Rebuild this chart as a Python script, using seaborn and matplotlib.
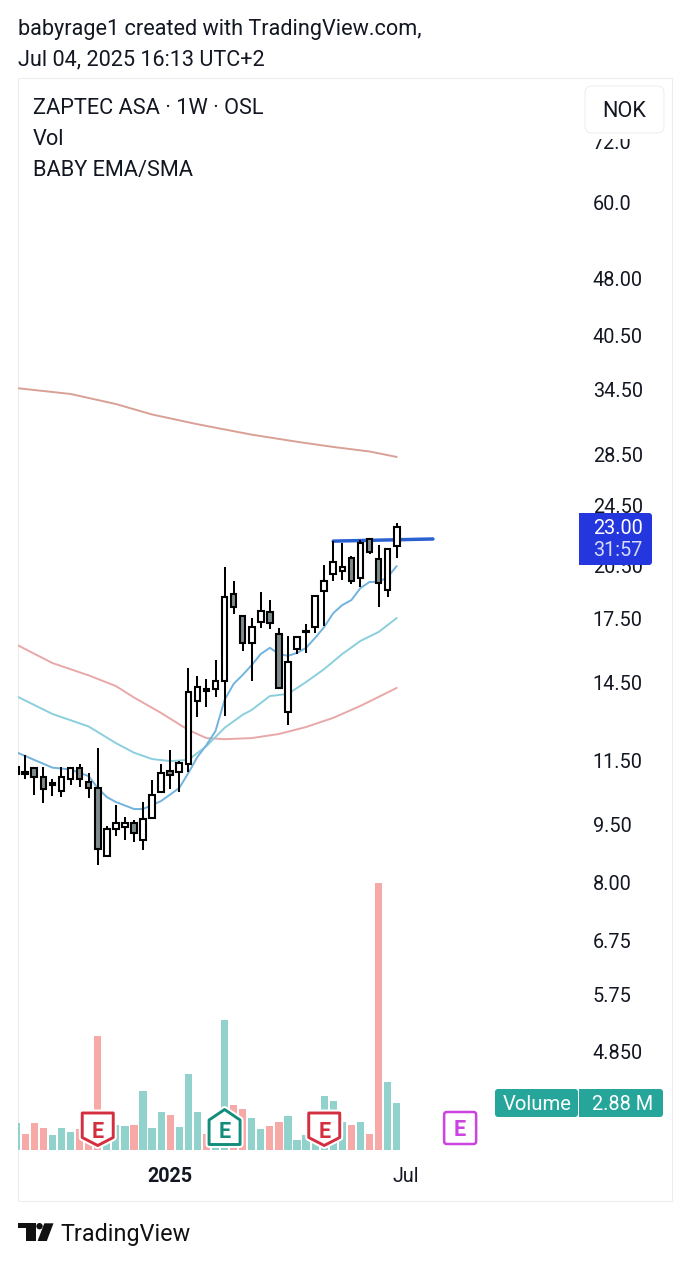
import matplotlib
matplotlib.use("Agg")
import matplotlib.pyplot as plt
import pandas as pd
import seaborn as sns
from matplotlib.patches import Circle, FancyBboxPatch, Polygon, Rectangle
from matplotlib.ticker import NullLocator
from matplotlib.transforms import IdentityTransform

# ---- data -----------------------------------------------------------------
weeks = list(range(-1, 42))
opens = [11.05, 11.06, 11.26, 10.94, 10.70, 10.50, 10.88, 11.25, 10.80, 10.61, 8.67, 9.39, 9.44, 9.56, 9.09, 9.70,
         10.49, 11.16, 11.11, 11.38, 13.73, 14.14, 14.20, 14.56, 18.83, 17.65, 16.28, 17.34, 17.84, 16.73, 13.28,
         15.99, 16.82, 17.09, 19.00, 19.96, 20.16, 20.97, 19.76, 22.19, 20.91, 19.06, 21.72]
closes = [11.28, 11.12, 10.96, 10.56, 10.75, 10.96, 11.25, 10.89, 10.61, 8.85, 9.39, 9.56, 9.56, 9.27, 9.68, 10.39,
          11.09, 11.02, 11.43, 14.07, 14.31, 14.20, 14.57, 18.68, 18.10, 16.28, 17.07, 17.91, 17.27, 14.25, 15.41,
          16.57, 16.88, 18.74, 19.59, 20.69, 20.42, 19.56, 21.93, 21.35, 19.48, 21.54, 23.00]
highs = [11.52, 11.69, 11.27, 11.27, 10.88, 11.27, 11.27, 11.38, 11.07, 11.92, 9.47, 10.08, 9.72, 9.64, 10.16, 10.86,
         11.38, 11.86, 11.49, 15.11, 14.77, 14.63, 15.49, 20.38, 19.57, 17.66, 17.53, 18.93, 18.50, 17.02, 16.63,
         16.60, 17.24, 18.74, 20.52, 22.05, 21.93, 21.10, 22.10, 22.21, 21.78, 21.57, 23.22]
lows = [10.86, 10.89, 10.38, 10.14, 10.35, 10.31, 10.70, 10.64, 10.29, 8.45, 8.65, 9.20, 9.09, 9.02, 8.82, 9.69,
        10.46, 10.57, 10.49, 11.12, 13.10, 13.49, 13.89, 13.13, 17.73, 15.93, 14.57, 17.05, 16.98, 14.24, 12.79,
        15.76, 15.80, 16.80, 17.14, 19.59, 19.63, 19.40, 19.25, 21.19, 18.10, 18.68, 20.94]
volumes = [1.66, 0.97, 1.62, 1.34, 0.89, 1.34, 1.10, 1.28, 0.50, 6.94, 0.50, 1.52, 1.44, 1.54, 3.61, 1.34, 2.29, 2.13,
           1.40, 4.60, 2.31, 0.97, 0.50, 7.91, 2.76, 2.49, 1.95, 1.26, 1.44, 1.72, 2.07, 0.59, 0.91, 1.01, 3.29, 2.96,
           1.70, 1.50, 1.72, 0.95, 16.23, 4.16, 2.88]
volume_dir = list("grrrgggrrrgggrgggrgggrggrrggrrggggggg"[:37]) + list("rgrrgg")

fast_weeks = [-1, 1, 3, 5, 7, 8, 9, 10, 12, 13, 15, 17, 18, 19, 20, 21, 22, 23, 24, 25, 26, 27, 28, 29, 30, 31, 32, 33,
              34, 35, 36, 37, 38, 39, 40, 41]
fast_ma = [11.79, 11.52, 11.26, 11.20, 10.98, 10.60, 10.32, 10.17, 9.96, 9.96, 10.20, 10.60, 11.08, 11.62, 12.04, 12.55,
           13.76, 14.43, 14.82, 15.26, 15.77, 16.06, 15.77, 15.68, 15.82, 16.06, 16.54, 17.08, 17.80, 18.23, 18.50,
           19.17, 19.52, 19.52, 19.80, 20.46]
mid_weeks = [-1, 3, 7, 10, 12, 14, 16, 18, 20, 22, 24, 25, 27, 29, 31, 33, 35, 37, 39, 40, 41]
mid_ma = [13.92, 13.20, 12.72, 12.11, 11.77, 11.55, 11.48, 11.52, 12.00, 12.67, 13.17, 13.36, 13.92, 14.01, 14.51,
          15.08, 15.77, 16.39, 16.83, 17.18, 17.54]
slow_weeks = [-1, 3, 7, 10, 12, 15, 18, 20, 22, 25, 28, 31, 34, 37, 40, 41]
slow_ma = [16.22, 15.35, 14.80, 14.34, 13.86, 13.24, 12.59, 12.29, 12.25, 12.29, 12.44, 12.70, 13.05, 13.52, 14.07, 14.26]
long_weeks = [-1, 5, 10, 14, 19, 25, 30, 34, 38, 41]
long_ma = [34.67, 34.07, 33.07, 32.06, 31.15, 30.20, 29.57, 29.12, 28.73, 28.27]
level_weeks = [34, 45]
level_prices = [22.03, 22.17]

price_ticks = [72.0, 60.0, 48.0, 40.5, 34.5, 28.5, 24.5, 20.5, 17.5, 14.5, 11.5, 9.5, 8.0, 6.75, 5.75, 4.85]
price_labels = ["72.0", "60.0", "48.00", "40.50", "34.50", "28.50", "24.50", "20.50", "17.50", "14.50", "11.50",
                "9.50", "8.00", "6.75", "5.75", "4.850"]
time_ticks = [16, 42]
time_labels = ["2025", "Jul"]
earn_weeks = [8, 22, 33, 48]
earn_kinds = ["miss", "beat", "miss", "next"]

# ---- colours --------------------------------------------------------------
INK = "#131722"
UP_VOL, DOWN_VOL = "#92D2CC", "#F7A9A7"
RED, GREEN, PURPLE = "#D32F3F", "#138D7B", "#CC44E0"

sns.set_theme(style="white")
plt.rcParams["font.family"] = ["Roboto", "DejaVu Sans"]
plt.rcParams["text.color"] = INK

W, H = 690, 1265
fig = plt.figure(figsize=(W / 100, H / 100), dpi=100, facecolor="white")
ax = fig.add_axes([18 / W, 1 - 1150 / H, (578 - 18) / W, (1150 - 79) / H])
ax2 = ax.twinx()
ax.set_zorder(2)
ax2.set_zorder(1)
ax.patch.set_visible(False)

# volume
vol_df = pd.DataFrame({"week": weeks, "vol": volumes, "dir": volume_dir})
sns.barplot(data=vol_df, x="week", y="vol", hue="dir", palette={"g": UP_VOL, "r": DOWN_VOL}, native_scale=True,
            dodge=False, width=0.8, saturation=1, legend=False, linewidth=0, ax=ax2)
ax2.set_ylim(0, 65.2)
ax2.set_ylabel("")
ax2.set_xlabel("")
ax2.set_yticks([])
for s in ax2.spines.values():
    s.set_visible(False)

# moving averages and level
ax.set_yscale("log")
line_kw = dict(ax=ax, linewidth=1.4, legend=False, estimator=None, zorder=2)
sns.lineplot(x=long_weeks, y=long_ma, color="#D9A096", **line_kw)
sns.lineplot(x=slow_weeks, y=slow_ma, color="#E8A8A8", **line_kw)
sns.lineplot(x=mid_weeks, y=mid_ma, color="#8AD0DC", **line_kw)
sns.lineplot(x=fast_weeks, y=fast_ma, color="#72B3DE", **line_kw)
sns.lineplot(x=level_weeks, y=level_prices, color="#2962D0", ax=ax, linewidth=2.5, legend=False, zorder=2.5,
             estimator=None)

# candles
ax.vlines(weeks, lows, highs, colors="black", linewidth=1.45, zorder=3)
for w, o, c in zip(weeks, opens, closes):
    lo, hi = min(o, c), max(o, c)
    ax.bar(w, hi - lo, bottom=lo, width=0.62, color="white" if c >= o else "#7F8C8D", edgecolor="black",
           linewidth=1.5, zorder=4)

ax.set_xlim(-0.8, 61.01)
ax2.set_xlim(-0.8, 61.01)
ax.set_ylim(3.6266, 86.63)
ax.yaxis.tick_right()
ax.yaxis.set_label_position("right")
ax.set_yticks(price_ticks)
ax.set_yticklabels(price_labels)
ax.yaxis.set_minor_locator(NullLocator())
ax.tick_params(axis="y", length=0, pad=10.6, labelsize=14.3, labelcolor=INK, which="both")
ax.set_xticks(time_ticks)
ax.set_xticklabels(time_labels)
ax.tick_params(axis="x", length=0, pad=12, labelsize=14.2, labelcolor=INK)
ax.get_xticklabels()[0].set_fontweight("bold")
ax.grid(False)
ax2.grid(False)
ax.set_xlabel("")
ax.set_ylabel("")
for s in ax.spines.values():
    s.set_visible(False)


# ---- page furniture (pixel positions, origin at top left) -------------------
def txt(x, y, s, size=14.5, ha="left", va="baseline", color=INK, weight="normal", z=20):
    fig.text(x / W, 1 - y / H, s, fontsize=size, ha=ha, va=va, color=color, fontweight=weight, zorder=z)


def box(x0, y0, x1, y1, fc, ec="none", r=3.0, lw=0.0, z=10, square_left=False):
    fig.add_artist(FancyBboxPatch((x0, H - y1), x1 - x0, y1 - y0, boxstyle=f"round,pad=0,rounding_size={r}",
                                  fc=fc, ec=ec, lw=lw, transform=IdentityTransform(), zorder=z))
    if square_left:
        fig.add_artist(Rectangle((x0, H - y1), r + 2, y1 - y0, fc=fc, ec="none",
                                 transform=IdentityTransform(), zorder=z))


def poly(points, fc, ec="none", lw=0.0, z=10):
    fig.add_artist(Polygon([(x, H - y) for x, y in points], closed=True, fc=fc, ec=ec, lw=lw, joinstyle="round",
                           transform=IdentityTransform(), zorder=z))


# chart frame
fig.add_artist(Rectangle((18, H - 1201), 654, 1201 - 78, fc="none", ec="#EDEDED", lw=0.8,
                         transform=IdentityTransform(), zorder=0.5))

txt(18, 35, "babyrage1 created with TradingView.com,", 15.6)
txt(18, 65, "Jul 04, 2025 16:13 UTC+2", 15.6)
txt(33, 114, "ZAPTEC ASA · 1W · OSL", 15.7)
txt(33, 145, "Vol", 15.7)
txt(33, 176, "BABY EMA/SMA", 15.7)

# the currency button masks whatever price labels run under it
fig.add_artist(Rectangle((580, H - 138.5), 90, 138.5 - 80, fc="white", ec="none",
                         transform=IdentityTransform(), zorder=9))
box(585, 86, 664, 133, "white", "#EFEFEF", r=7, lw=0.8)
txt(624, 117, "NOK", 15.6, ha="center")

box(579, 513, 652, 565, "#2437DE", square_left=True)
txt(618, 534, "23.00", 14.3, ha="center", color="white")
txt(618, 556, "31:57", 14.3, ha="center", color="#D6DBF8")

box(495, 1089, 578, 1117, "#26A69A", square_left=False)
box(579, 1089, 663, 1117, "#26A69A", square_left=True)
txt(537, 1110, "Volume", 14.6, ha="center", color="white")
txt(623, 1110, "2.88 M", 14.3, ha="center", color="white")

# earnings badges, placed on the week scale
for w, kind in zip(earn_weeks, earn_kinds):
    cx = ax.transData.transform((w, 10.0))[0]
    if kind == "next":
        box(cx - 16, 1112, cx + 16, 1144, "white", PURPLE, r=2.5, lw=1.8, z=11)
        colour, cy = PURPLE, 1128
    else:
        if kind == "miss":
            pts = [(cx - 15.5, 1113), (cx + 15.5, 1113), (cx + 15.5, 1137.5), (cx, 1145.5), (cx - 15.5, 1137.5)]
            colour, cy = RED, 1129
        else:
            pts = [(cx, 1109.5), (cx + 15.5, 1120), (cx + 15.5, 1144.5), (cx - 15.5, 1144.5), (cx - 15.5, 1120)]
            colour, cy = GREEN, 1129
        poly(pts, "white", "white", lw=5.0, z=10)
        poly(pts, "white", colour, lw=2.1, z=11)
    txt(cx, cy, "E", 15.5, ha="center", va="center_baseline", color=colour, weight="bold", z=12)

# TradingView logo
poly([(18.3, 1223.3), (36, 1223.3), (36, 1241), (26, 1241), (26, 1228.3), (18.3, 1228.3)], "#111111")
fig.add_artist(Circle((39.5, H - 1226.2), 3.2, fc="#111111", ec="none", transform=IdentityTransform(), zorder=10))
poly([(44.3, 1223.3), (53.5, 1223.3), (46.8, 1241), (37.6, 1241)], "#111111")
txt(60, 1241, "TradingView", 16.85, color="#111111")

fig.savefig("out.png", dpi=100, facecolor="white")
